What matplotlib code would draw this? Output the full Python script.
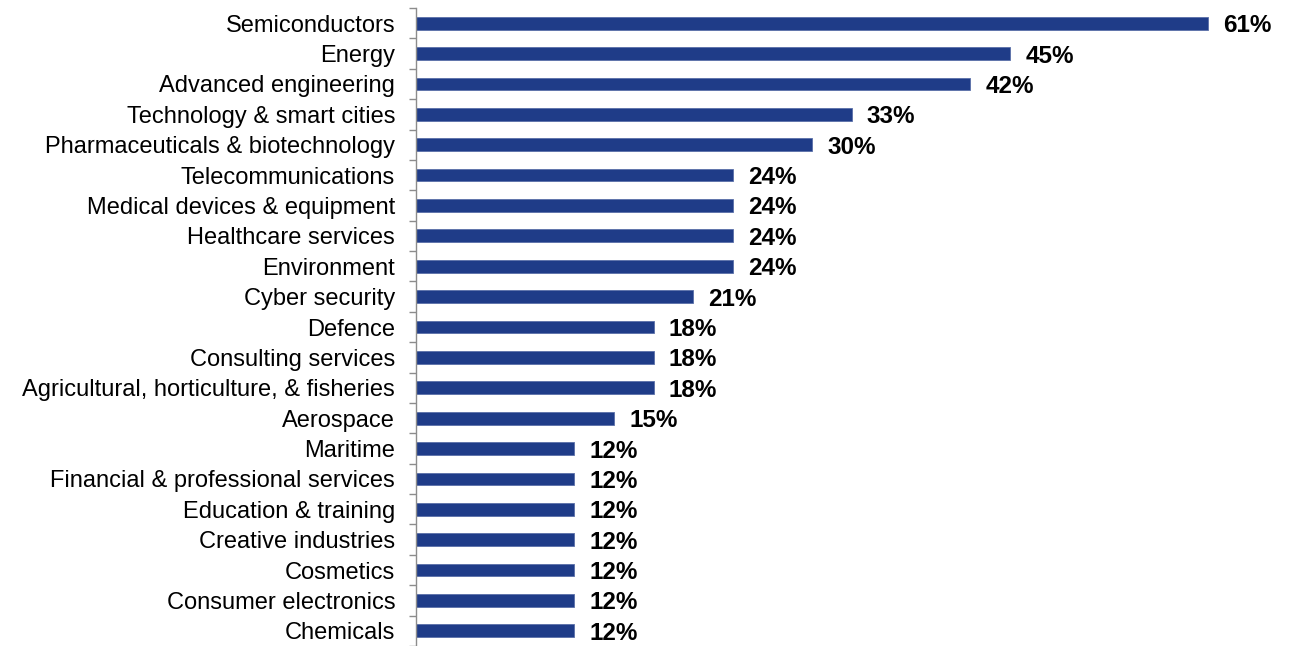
import matplotlib
matplotlib.use("Agg")
import matplotlib.pyplot as plt
import numpy as np

sectors = [
    "Semiconductors", "Energy", "Advanced engineering", "Technology & smart cities",
    "Pharmaceuticals & biotechnology", "Telecommunications", "Medical devices & equipment",
    "Healthcare services", "Environment", "Cyber security", "Defence",
    "Consulting services", "Agricultural, horticulture, & fisheries", "Aerospace",
    "Maritime", "Financial & professional services", "Education & training",
    "Creative industries", "Cosmetics", "Consumer electronics", "Chemicals",
]
share = [60.61, 45.45, 42.42, 33.33, 30.30, 24.24, 24.24, 24.24, 24.24, 21.21, 18.18,
         18.18, 18.18, 15.15, 12.12, 12.12, 12.12, 12.12, 12.12, 12.12, 12.12]

plt.rcParams["font.family"] = ["Liberation Sans", "DejaVu Sans"]

fig = plt.figure(figsize=(12.96, 6.46), dpi=100)
ax = fig.add_axes([416 / 1296, 0.0, 1 - 416 / 1296, 1 - 8 / 646])

y = np.arange(len(sectors))
ax.barh(y, share, height=0.42, color="#1f3c88", edgecolor="#5a6fa8", linewidth=0.6)
for yi, v in zip(y, share):
    ax.annotate(f"{v:.0f}%", (v, yi), xytext=(11, 0), textcoords="offset points",
                va="center_baseline", ha="left", fontsize=17.5, fontweight="bold",
                color="black")

ax.set_xlim(0, 880 / 13.07)
ax.set_ylim(len(sectors) - 0.5, -0.5)
ax.set_yticks(y)
ax.set_yticklabels(sectors, fontsize=17)
ax.set_yticks(np.arange(len(sectors) + 1) - 0.5, minor=True)
ax.tick_params(axis="y", which="major", length=0, pad=15)
ax.tick_params(axis="y", which="minor", length=5, width=1, color="#8c8c8c")
ax.set_xticks([])
for side in ["top", "right", "bottom"]:
    ax.spines[side].set_visible(False)
ax.spines["left"].set_color("#8c8c8c")
ax.spines["left"].set_linewidth(1)

fig.savefig("out.png", dpi=100)
